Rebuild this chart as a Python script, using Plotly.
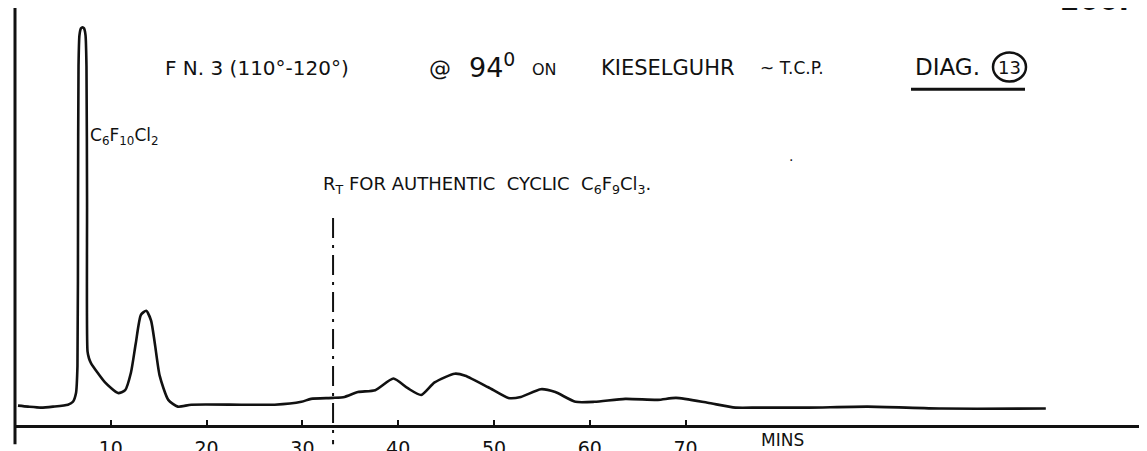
import plotly.graph_objects as go

# ---- data ----
time_min = [0.31, 1.36, 2.71, 3.97, 5.53, 6.05, 6.37, 6.52, 6.58, 6.63, 6.73, 6.89, 7.05,
            7.2, 7.36, 7.46, 7.52, 7.57, 7.72, 7.93, 9.4, 10.75, 11.5, 12.1, 12.6, 13.15,
            13.7, 14.2, 14.6, 15.1, 16.0, 17.0, 18.4, 23.6, 27.1, 29.9, 30.9, 33.2, 34.4,
            35.8, 37.6, 39.5, 41.0, 42.4, 43.8, 45.9, 47.0, 49.4, 51.5, 52.8, 54.9, 56.4,
            58.5, 60.5, 63.7, 67.1, 69.0, 72.3, 75.2, 77.6, 82.8, 89.0, 96.7, 107.6]
response = [20, 19, 18, 19, 21, 24, 33, 61, 231, 371, 403, 410, 411,
            410, 403, 371, 231, 76, 69, 64, 44, 33, 36, 54, 84, 114,
            118, 108, 84, 51, 26, 19, 21, 21, 21, 24, 27, 28, 29,
            34, 36, 48, 38, 31, 44, 53, 51, 39, 28, 29, 37, 34,
            24, 24, 27, 26, 28, 23, 18, 18, 18, 19, 17, 17]

tick_vals = [10, 20, 30, 40, 50, 60, 70]
tick_text = ["10", "20", "30", "40", "50", "60", "70"]
rt_marker_min = 33.2  # retention time of authentic cyclic C6F9Cl3

# ---- geometry helpers (pixel -> paper) ----
W, H = 1147, 451
ML, MB = 7, 20
PW, PH = W - ML, H - MB


def xp(px):
    return (px - ML) / PW


def yp(py):
    return (PH - py) / PH


FONT = "DejaVu Sans"
INK = "#111111"

fig = go.Figure()
fig.add_trace(go.Scatter(x=time_min, y=response, mode="lines",
                         line=dict(color=INK, width=2.6, shape="spline", smoothing=0.6),
                         hoverinfo="skip", showlegend=False))

annotations = []


def txt(text, px, py, size, xanchor="center", yanchor="middle"):
    annotations.append(dict(text=text, x=xp(px), y=yp(py), xref="paper", yref="paper",
                            xanchor=xanchor, yanchor=yanchor, showarrow=False,
                            font=dict(family=FONT, size=size, color=INK)))


txt("F N. 3 (110°-120°)", 249, 62, 20)
txt("@", 432, 63, 22)
txt("94<sup>0</sup>", 484, 59, 27)
txt("ON", 536, 64, 16)
txt("KIESELGUHR", 660, 62, 21)
txt("~ T.C.P.", 784, 62, 17)
txt("DIAG.", 939, 61, 23)
txt("13", 1001, 61, 18)
txt("C<sub>6</sub>F<sub>10</sub>Cl<sub>2</sub>", 80, 133, 17, xanchor="left")
txt("R<sub>T</sub> FOR AUTHENTIC  CYCLIC  C<sub>6</sub>F<sub>9</sub>Cl<sub>3</sub>.", 313, 183, 18,
    xanchor="left")
txt(".", 783, 153, 14)
txt("MINS", 774, 447, 17)
annotations.append(dict(text="<b>200.</b>", x=xp(1086), y=yp(11), xref="paper", yref="paper",
                        xanchor="center", yanchor="bottom", showarrow=False,
                        font=dict(family=FONT, size=28, color=INK)))

shapes = [
    # circle around 13 and underline of DIAG.
    dict(type="circle", xref="paper", yref="paper", x0=xp(985), x1=xp(1018), y0=yp(76), y1=yp(46),
         line=dict(color=INK, width=2.5)),
    dict(type="line", xref="paper", yref="paper", x0=xp(903), x1=xp(1017), y0=yp(84), y1=yp(84),
         line=dict(color=INK, width=3)),
    # y axis extension below the time axis
    dict(type="line", xref="paper", yref="paper", x0=0, x1=0, y0=yp(451), y1=1.0,
         line=dict(color=INK, width=3)),
    # dash-dot retention-time marker
    dict(type="line", xref="x", yref="paper", x0=rt_marker_min, x1=rt_marker_min,
         y0=yp(217), y1=yp(451),
         line=dict(color=INK, width=2, dash="20px,7px,3px,7px")),
]

fig.update_layout(
    width=W, height=H,
    margin=dict(l=ML, r=0, t=0, b=MB),
    paper_bgcolor="white", plot_bgcolor="white",
    annotations=annotations, shapes=shapes,
    xaxis=dict(range=[0, PW / 9.58], showgrid=False, zeroline=False,
               showline=True, linecolor=INK, linewidth=2.5,
               ticks="inside", ticklen=5, tickwidth=2, tickcolor=INK,
               tickvals=tick_vals, ticktext=tick_text, ticklabelstandoff=4,
               tickfont=dict(family=FONT, size=19, color=INK)),
    yaxis=dict(range=[0, PH], showgrid=False, zeroline=False, showticklabels=False,
               showline=False, ticks=""),
)

fig.write_html("out.html")
